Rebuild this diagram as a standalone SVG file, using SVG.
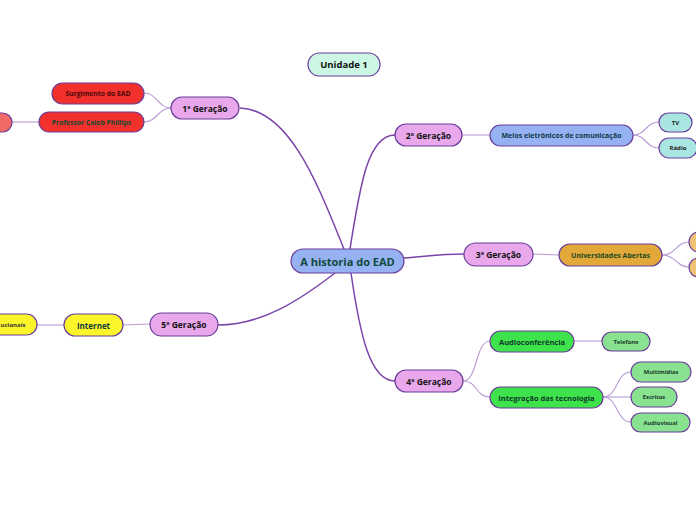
<svg xmlns="http://www.w3.org/2000/svg" width="696" height="520" viewBox="0 0 696 520">
<style>
.n{stroke:#6a3d9a;stroke-width:1.2}
.t{font-family:"Open Sans","Noto Sans",sans-serif;font-weight:700;text-anchor:middle;dominant-baseline:central}
.main{fill:none;stroke:#7a45a8;stroke-width:1.5}
.sub{fill:none;stroke:#b89ad4;stroke-width:1.1}
.gen{fill:#eaa8ec}
</style>
<rect width="696" height="520" fill="#ffffff"/>
<g id="connectors">
<path class="main" d="M240,108 C290,110 318,185 344,249"/>
<path class="main" d="M350,249 C360,185 368,135 395,135"/>
<path class="main" d="M404,258 C430,256 440,254 464,254"/>
<path class="main" d="M351,273 C360,335 370,381 395,381"/>
<path class="main" d="M335,273 C300,300 262,325 218,325"/>
<path class="sub" d="M171,108 C158,108 157,93 144,93"/>
<path class="sub" d="M171,108 C158,108 157,122 144,122"/>
<path class="sub" d="M39,122 L12,122"/>
<path class="sub" d="M462,135 L490,135"/>
<path class="sub" d="M633,135 C646,135 646,122 659,122"/>
<path class="sub" d="M633,135 C646,135 646,148 659,148"/>
<path class="sub" d="M533,254 L559,255"/>
<path class="sub" d="M662,255 C676,255 676,242 689,242"/>
<path class="sub" d="M662,255 C676,255 676,267 689,267"/>
<path class="sub" d="M463,381 C478,381 475,341 490,341"/>
<path class="sub" d="M463,381 C478,381 475,397 490,397"/>
<path class="sub" d="M574,341 L602,341"/>
<path class="sub" d="M603,397 C618,397 616,372 631,372"/>
<path class="sub" d="M603,397 L631,397"/>
<path class="sub" d="M603,397 C618,397 616,422 631,422"/>
<path class="sub" d="M150,324 L123,325"/>
<path class="sub" d="M64,325 L37,325"/>
</g>
<g id="central"><rect class="n" x="291" y="249" width="113" height="24" rx="12" fill="#97b2f2"/><text class="t" x="347.5" y="261" font-size="11" fill="#0d4a3c">A historia do EAD</text></g>
<g id="unidade1"><rect class="n" x="308" y="53" width="72" height="23" rx="11.5" fill="#ccf7e4"/><text class="t" x="344" y="64.5" font-size="9.5" fill="#111">Unidade 1</text></g>
<g id="g1"><rect class="n gen" x="171" y="97" width="68" height="22" rx="11"/><text class="t" x="205" y="108" font-size="8.5" fill="#111">1ª Geração</text></g>
<g id="surgimento"><rect class="n" x="52" y="83" width="92" height="21" rx="10.5" fill="#f2302c"/><text class="t" x="98" y="93.5" font-size="6.8" fill="#4a0a0a">Surgimento do EAD</text></g>
<g id="caleb"><rect class="n" x="39" y="112" width="105" height="20" rx="10" fill="#f2302c"/><text class="t" x="91.5" y="122" font-size="6.8" fill="#0f4a30">Professor Caleb Phillips</text></g>
<g id="caleb-child"><rect class="n" x="-40" y="113" width="52" height="19" rx="9.5" fill="#f26a66"/></g>
<g id="g2"><rect class="n gen" x="395" y="124" width="67" height="22" rx="11"/><text class="t" x="428.5" y="135" font-size="8.5" fill="#111">2ª Geração</text></g>
<g id="meios"><rect class="n" x="490" y="125" width="143" height="21" rx="10.5" fill="#97b2f2"/><text class="t" x="561.5" y="135.5" font-size="7" fill="#0d3a4a">Meios eletrônicos de comunicação</text></g>
<g id="tv"><rect class="n" x="659" y="113" width="33" height="19" rx="9.5" fill="#a9e6e2"/><text class="t" x="675.5" y="122.5" font-size="6" fill="#222">TV</text></g>
<g id="radio"><rect class="n" x="659" y="138" width="38" height="20" rx="10" fill="#a9e6e2"/><text class="t" x="678" y="148" font-size="6" fill="#222">Rádio</text></g>
<g id="g3"><rect class="n gen" x="464" y="243" width="69" height="23" rx="11.5"/><text class="t" x="498.5" y="254.5" font-size="8.5" fill="#111">3ª Geração</text></g>
<g id="universidades"><rect class="n" x="559" y="244" width="103" height="22" rx="11" fill="#e2a83a"/><text class="t" x="610.5" y="255" font-size="7" fill="#1a4a20">Universidades Abertas</text></g>
<g id="ua-child1"><rect class="n" x="689" y="232" width="40" height="20" rx="10" fill="#f0c274"/></g>
<g id="ua-child2"><rect class="n" x="689" y="258" width="40" height="19" rx="9.5" fill="#f0c274"/></g>
<g id="g4"><rect class="n gen" x="395" y="370" width="68" height="22" rx="11"/><text class="t" x="429" y="381" font-size="8.5" fill="#111">4ª Geração</text></g>
<g id="audioconf"><rect class="n" x="490" y="331" width="84" height="21" rx="10.5" fill="#3ee24a"/><text class="t" x="532" y="341.5" font-size="7.5" fill="#0d3a2a">Audioconferência</text></g>
<g id="telefone"><rect class="n" x="602" y="332" width="48" height="19" rx="9.5" fill="#88e290"/><text class="t" x="626" y="341.5" font-size="5.8" fill="#1a3a2a">Telefone</text></g>
<g id="integracao"><rect class="n" x="490" y="387" width="113" height="21" rx="10.5" fill="#3ee24a"/><text class="t" x="546.5" y="397.5" font-size="7.5" fill="#0d3a2a">Integração das tecnologia</text></g>
<g id="multimidias"><rect class="n" x="631" y="362" width="60" height="20" rx="10" fill="#88e290"/><text class="t" x="661" y="372" font-size="5.8" fill="#1a3a2a">Multimídias</text></g>
<g id="escritos"><rect class="n" x="631" y="387" width="46" height="20" rx="10" fill="#88e290"/><text class="t" x="654" y="397" font-size="5.8" fill="#1a3a2a">Escritos</text></g>
<g id="audiovisual"><rect class="n" x="631" y="413" width="59" height="19" rx="9.5" fill="#88e290"/><text class="t" x="660.5" y="422.5" font-size="5.8" fill="#1a3a2a">Audiovisual</text></g>
<g id="g5"><rect class="n gen" x="150" y="313" width="68" height="23" rx="11.5"/><text class="t" x="184" y="324.5" font-size="8.5" fill="#111">5ª Geração</text></g>
<g id="internet"><rect class="n" x="64" y="314" width="59" height="22" rx="11" fill="#fbf52a"/><text class="t" x="93.5" y="325" font-size="8" fill="#0d3a3a">Internet</text></g>
<g id="internet-child"><rect class="n" x="-50" y="314" width="87" height="21" rx="10.5" fill="#fbf52a"/><text class="t" x="25.5" y="324.5" font-size="6" fill="#333" style="text-anchor:end">ucionais</text></g>
</svg>
